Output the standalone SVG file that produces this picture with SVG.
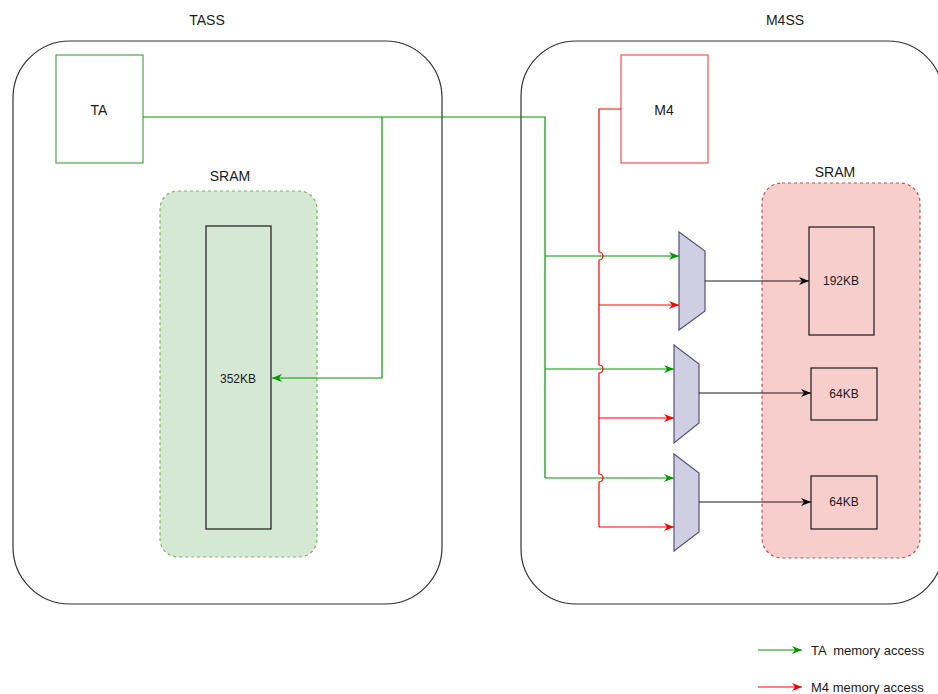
<svg xmlns="http://www.w3.org/2000/svg" width="938" height="694" viewBox="0 0 938 694">
<style>
text{font-family:"Liberation Sans",Arial,sans-serif;fill:#1a1a1a;text-anchor:middle;dominant-baseline:central}
.big{font-size:14px}
.sm{font-size:12px}
.leg{font-size:13px;text-anchor:start;white-space:pre}
.sub{fill:#ffffff;stroke:#333333;stroke-width:1.2}
.kb{fill:none;stroke:#1a1a1a;stroke-width:1.2}
.mux{fill:#d0cee2;stroke:#56517e;stroke-width:1.2}
.g{fill:none;stroke:#009900;stroke-width:1.2}
.r{fill:none;stroke:#ff0000;stroke-width:1.2}
.k{fill:none;stroke:#1a1a1a;stroke-width:1.2}
</style>
<defs>
<marker id="ag" viewBox="0 0 10 8" refX="10" refY="4" markerWidth="10" markerHeight="8" markerUnits="userSpaceOnUse" orient="auto"><path d="M0,0 L10,4 L0,8 L3,4 z" fill="#009900"/></marker>
<marker id="ar" viewBox="0 0 10 8" refX="10" refY="4" markerWidth="10" markerHeight="8" markerUnits="userSpaceOnUse" orient="auto"><path d="M0,0 L10,4 L0,8 L3,4 z" fill="#ff0000"/></marker>
<marker id="ak" viewBox="0 0 10 8" refX="10" refY="4" markerWidth="10" markerHeight="8" markerUnits="userSpaceOnUse" orient="auto"><path d="M0,0 L10,4 L0,8 L3,4 z" fill="#000000"/></marker>
</defs>

<g id="tass">
<rect class="sub" x="13" y="41" width="429" height="563" rx="57" ry="57"/>
<text class="big" x="207" y="20">TASS</text>
</g>
<g id="m4ss">
<rect class="sub" x="521" y="41" width="422" height="563" rx="55" ry="55"/>
<text class="big" x="785" y="20">M4SS</text>
</g>

<g id="sram-ta">
<rect x="160" y="191" width="157" height="366" rx="18" ry="18" fill="#d5e8d4" stroke="#82b366" stroke-width="1.2" stroke-dasharray="3,3"/>
<text class="big" x="230" y="176">SRAM</text>
</g>
<g id="mem352">
<rect class="kb" x="206" y="226" width="65" height="303"/>
<text class="sm" x="238" y="379">352KB</text>
</g>

<g id="ta">
<rect x="56" y="55" width="87" height="108" fill="#ffffff" stroke="#4ea64e" stroke-width="1.2"/>
<text class="big" x="99" y="110">TA</text>
</g>

<g id="m4">
<rect x="621" y="55" width="87" height="108" fill="#ffffff" stroke="#ff4d4d" stroke-width="1.2"/>
<text class="big" x="664" y="110">M4</text>
</g>

<g id="sram-m4">
<rect x="762" y="183" width="158" height="375" rx="20" ry="20" fill="#f8cecc" stroke="#b85450" stroke-width="1.2" stroke-dasharray="3,3"/>
<text class="big" x="835" y="172">SRAM</text>
</g>
<g id="mem192">
<rect class="kb" x="809" y="227" width="65" height="108"/>
<text class="sm" x="841" y="281">192KB</text>
</g>
<g id="mem64a">
<rect class="kb" x="811" y="368" width="66" height="52"/>
<text class="sm" x="844" y="394">64KB</text>
</g>
<g id="mem64b">
<rect class="kb" x="811" y="476" width="66" height="53"/>
<text class="sm" x="844" y="502">64KB</text>
</g>

<g id="mux1"><path class="mux" d="M679,232 L705,251 L705,311 L679,330 Z"/></g>
<g id="mux2"><path class="mux" d="M674,345 L699,364 L699,423 L674,443 Z"/></g>
<g id="mux3"><path class="mux" d="M674,454 L699,473 L699,532 L674,551 Z"/></g>

<g id="connectors">
<path class="g" d="M143,117 H545 V478"/>
<path class="g" d="M382,117 V378 H272" marker-end="url(#ag)"/>
<path class="g" d="M545,256 H679" marker-end="url(#ag)"/>
<path class="g" d="M545,369 H674" marker-end="url(#ag)"/>
<path class="g" d="M545,478 H674" marker-end="url(#ag)"/>
<path class="r" d="M621,109 H599 V252 A4,4 0 0 1 599,260 V365 A4,4 0 0 1 599,373 V474 A4,4 0 0 1 599,482 V527"/>
<path class="r" d="M599,305 H679" marker-end="url(#ar)"/>
<path class="r" d="M599,418 H674" marker-end="url(#ar)"/>
<path class="r" d="M599,527 H674" marker-end="url(#ar)"/>
<path class="k" d="M705,281 H809" marker-end="url(#ak)"/>
<path class="k" d="M699,393 H811" marker-end="url(#ak)"/>
<path class="k" d="M699,502 H811" marker-end="url(#ak)"/>
</g>

<g id="legend">
<path class="g" d="M758,650 H802" marker-end="url(#ag)"/>
<text class="leg" x="811" y="650" xml:space="preserve">TA  memory access</text>
<path class="r" d="M758,687 H802" marker-end="url(#ar)"/>
<text class="leg" x="811" y="687">M4 memory access</text>
</g>
</svg>
